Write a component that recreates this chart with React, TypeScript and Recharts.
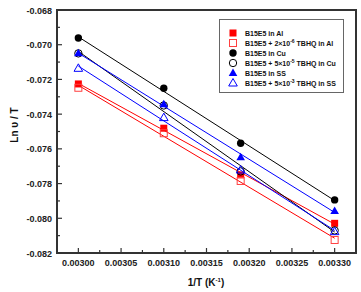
import React from 'react';
import { ComposedChart, Scatter, XAxis, YAxis, ReferenceArea } from 'recharts';

// 1/T values (K^-1)
const invT = [0.003, 0.0031, 0.00319, 0.0033];

// Ln v / T for each system
const alBlank = [-0.07226, -0.07481, -0.0775, -0.08029];
const alTbhq = [-0.07248, -0.0751, -0.07785, -0.08125];
const cuBlank = [-0.06961, -0.07251, -0.07568, -0.07894];
const cuTbhq = [-0.0705, -0.0735, -0.0773, -0.0807];
const ssBlank = [-0.07049, -0.07343, -0.07649, -0.07958];
const ssTbhq = [-0.07136, -0.0742, -0.07722, -0.08077];

const xTicks = [0.003, 0.003025, 0.00305, 0.003075, 0.0031, 0.003125, 0.00315, 0.003175, 0.0032, 0.003225, 0.00325, 0.003275, 0.0033];
const xLabels = [0.003, 0.00305, 0.0031, 0.00315, 0.0032, 0.00325, 0.0033];
const yTicks = [-0.082, -0.081, -0.08, -0.079, -0.078, -0.077, -0.076, -0.075, -0.074, -0.073, -0.072, -0.071, -0.07, -0.069, -0.068];
const yLabels = [-0.082, -0.08, -0.078, -0.076, -0.074, -0.072, -0.07, -0.068];

const FONT = '"Liberation Sans", Arial, sans-serif';

const toPoints = (ys: number[]) => invT.map((x, i) => ({ x, y: ys[i] }));

type Kind = 'square' | 'circle' | 'triangle';

function Marker({ cx, cy, kind, color, open }: { cx: number; cy: number; kind: Kind; color: string; open: boolean }) {
  const fill = open ? 'none' : color;
  const sw = open ? 1 : 0;
  if (kind === 'square') return <rect x={cx - 3.5} y={cy - 3.5} width={7} height={7} fill={fill} stroke={color} strokeWidth={sw} />;
  if (kind === 'circle') return <circle cx={cx} cy={cy} r={3.7} fill={fill} stroke={color} strokeWidth={sw} />;
  return <polygon points={`${cx},${cy - 4.5} ${cx + 4.3},${cy + 3} ${cx - 4.3},${cy + 3}`} fill={fill} stroke={color} strokeWidth={sw} />;
}

const series = [
  { name: 'B15E5 in Al', data: alBlank, kind: 'square' as Kind, color: '#ff0000', open: false, sup: '' },
  { name: 'B15E5 + 2×10', sup: '-6', tail: ' TBHQ in Al', data: alTbhq, kind: 'square' as Kind, color: '#ff4040', open: true },
  { name: 'B15E5 in Cu', data: cuBlank, kind: 'circle' as Kind, color: '#000000', open: false, sup: '' },
  { name: 'B15E5 + 5×10', sup: '-5', tail: ' TBHQ in Cu', data: cuTbhq, kind: 'circle' as Kind, color: '#000000', open: true },
  { name: 'B15E5 in SS', data: ssBlank, kind: 'triangle' as Kind, color: '#0000ff', open: false, sup: '' },
  { name: 'B15E5 + 5×10', sup: '-3', tail: ' TBHQ in SS', data: ssTbhq, kind: 'triangle' as Kind, color: '#0000ff', open: true },
];

const XTick = (props: any) => {
  const { x, y, payload } = props;
  const major = xLabels.some((v) => Math.abs(v - payload.value) < 1e-9);
  return (
    <g>
      <line x1={x} y1={y} x2={x} y2={y - (major ? 5 : 3)} stroke="#333" strokeWidth={1.2} />
      {major && (
        <text x={x} y={y + 13} textAnchor="middle" fontSize={9} fontWeight="bold" fontFamily={FONT} fill="#222">
          {payload.value.toFixed(5)}
        </text>
      )}
    </g>
  );
};

const YTick = (props: any) => {
  const { x, y, payload } = props;
  const major = yLabels.some((v) => Math.abs(v - payload.value) < 1e-9);
  return (
    <g>
      <line x1={x} y1={y} x2={x + (major ? 5 : 3)} y2={y} stroke="#333" strokeWidth={1.2} />
      {major && (
        <text x={x - 5} y={y + 3.5} textAnchor="end" fontSize={9} fontWeight="bold" fontFamily={FONT} fill="#222">
          {payload.value.toFixed(3)}
        </text>
      )}
    </g>
  );
};

function LegendBox() {
  return (
    <div
      style={{
        position: 'absolute',
        left: 219,
        top: 19,
        width: 125,
        height: 74,
        border: '1px solid #666',
        background: '#fff',
        boxSizing: 'border-box',
        paddingTop: 8,
        fontFamily: FONT,
        fontWeight: 'bold',
        fontSize: 7,
        color: '#111',
      }}
    >
      {series.map((s) => (
        <div key={s.name + s.sup} style={{ display: 'flex', alignItems: 'center', height: 10, whiteSpace: 'nowrap' }}>
          <svg width={24} height={10} style={{ flexShrink: 0, marginLeft: 1 }}>
            <Marker cx={12} cy={5} kind={s.kind} color={s.color} open={s.open} />
          </svg>
          <span>
            {s.name}
            {s.sup && <sup style={{ fontSize: 5 }}>{s.sup}</sup>}
            {s.sup && s.tail}
          </span>
        </div>
      ))}
    </div>
  );
}

export default function App() {
  return (
    <div style={{ position: 'absolute', left: 0, top: 0, width: 361, height: 292, background: '#fff' }}>
      <ComposedChart width={361} height={292} margin={{ top: 10, right: 5, left: 0, bottom: 0 }}>
        <XAxis
          type="number"
          dataKey="x"
          domain={[0.002975, 0.003325]}
          ticks={xTicks}
          interval={0}
          axisLine={false}
          tickLine={false}
          tickSize={0}
          tickMargin={0}
          height={39}
          tick={<XTick />}
          allowDataOverflow
        />
        <YAxis
          type="number"
          dataKey="y"
          domain={[-0.082, -0.068]}
          ticks={yTicks}
          interval={0}
          axisLine={false}
          tickLine={false}
          tickSize={0}
          tickMargin={0}
          width={57}
          tick={<YTick />}
          allowDataOverflow
        />
        <ReferenceArea x1={0.002975} x2={0.003325} y1={-0.082} y2={-0.068} fill="none" stroke="#333" strokeWidth={2} ifOverflow="visible" />
        {series.map((s) => (
          <Scatter
            key={s.name + s.sup}
            data={toPoints(s.data)}
            line={{ stroke: s.color === '#ff4040' ? '#ff0000' : s.color, strokeWidth: 1 }}
            lineType="fitting"
            shape={(p: any) => <Marker cx={p.cx} cy={p.cy} kind={s.kind} color={s.color} open={s.open} />}
            isAnimationActive={false}
          />
        ))}
        <text x={206} y={286} textAnchor="middle" fontSize={10} fontWeight="bold" fontFamily={FONT} fill="#111">
          1/T (K<tspan dy={-4} fontSize={6}>-1</tspan>
          <tspan dy={4}>)</tspan>
        </text>
        <text
          x={18}
          y={125}
          transform="rotate(-90 18 125)"
          textAnchor="middle"
          fontSize={10}
          fontWeight="bold"
          fontFamily={FONT}
          fill="#111"
        >
          Ln υ / T
        </text>
      </ComposedChart>
      <LegendBox />
    </div>
  );
}
